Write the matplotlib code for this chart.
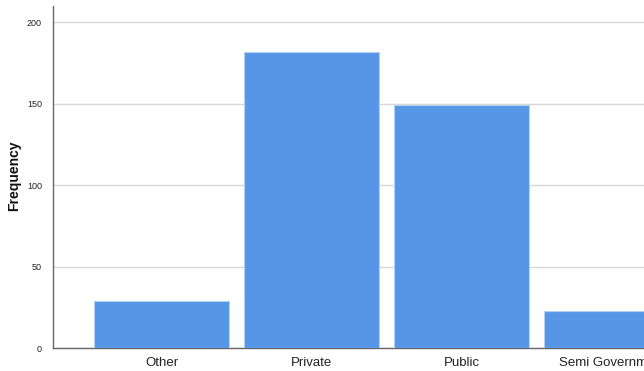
import matplotlib.pyplot as plt

# sector frequencies
categories = ["Other", "Private", "Public", "Semi Government"]
counts = [29, 182, 149, 23]

plt.rcParams['font.family'] = ['Liberation Sans', 'DejaVu Sans']

fig = plt.figure(figsize=(6.44, 3.71), dpi=100)
W, H = 644, 371
# axes runs past the right edge of the figure, as in the reference crop
ax = fig.add_axes([53 / W, (H - 348) / H, 667.5 / W, 342 / H])

x = range(len(categories))
ax.bar(x, counts, width=0.9, color='#5596e6', edgecolor='#b4d0f4',
       linewidth=0.8, zorder=3)

ax.set_xlim(-0.723, 3.723)
ax.set_ylim(0, 210)
ax.set_yticks([0, 50, 100, 150, 200])
ax.set_xticks(list(x))
ax.set_xticklabels(categories, fontsize=9.5, color='#222222')
ax.tick_params(axis='y', labelsize=6.5, length=0, pad=8, labelcolor='#222222')
ax.tick_params(axis='x', length=0, pad=6.5)

ax.yaxis.grid(True, color='#d8d8d8', linewidth=1.0, zorder=0)
ax.set_axisbelow(True)

for side in ['top', 'right']:
    ax.spines[side].set_visible(False)
for side in ['left', 'bottom']:
    ax.spines[side].set_color('#666666')
    ax.spines[side].set_linewidth(1.0)

fig.text(14 / W, (H - 176) / H, "Frequency", rotation=90, fontsize=10,
         fontweight='bold', ha='center', va='center', color='#111111')

fig.savefig("out.png", dpi=100)
